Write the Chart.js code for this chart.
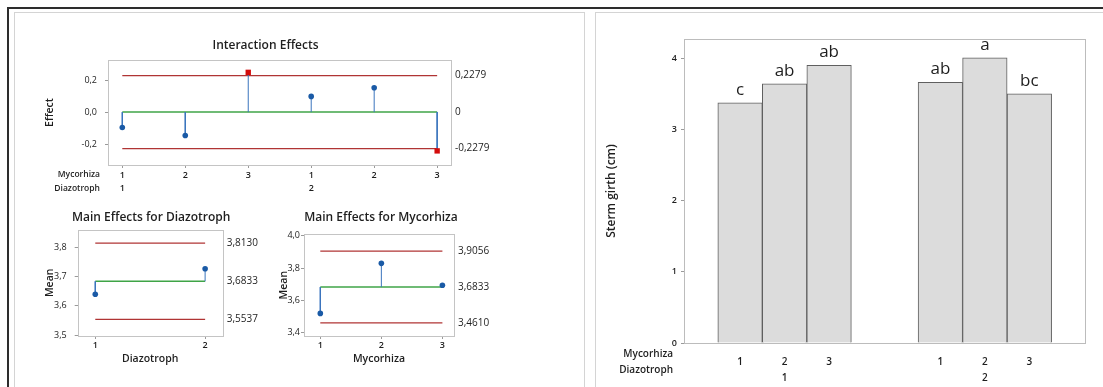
<!DOCTYPE html>
<html>
<head>
<meta charset="utf-8">
<script src="https://cdn.jsdelivr.net/npm/chart.js@4.4.1/dist/chart.umd.min.js"></script>
<style>
  body { margin: 0; background: #fff; width: 1103px; height: 387px; overflow: hidden; position: relative; }
  .rule { position: absolute; background: #2d2d2d; }
  .panel { position: absolute; border: 1px solid #d4d4d4; }
  canvas { position: absolute; }
</style>
</head>
<body>
<div class="rule" style="left:7px;top:7px;width:1096px;height:2px"></div>
<div class="rule" style="left:7px;top:7px;width:2px;height:380px"></div>
<div class="panel" style="left:14px;top:12px;width:569px;height:400px"></div>
<div class="panel" style="left:595px;top:12px;width:600px;height:400px"></div>

<canvas id="interaction" width="590" height="180" style="left:0;top:20px"></canvas>
<canvas id="mainDiaz" width="290" height="192" style="left:0;top:195px"></canvas>
<canvas id="mainMyc" width="340" height="192" style="left:250px;top:195px"></canvas>
<canvas id="girth" width="508" height="373" style="left:595px;top:14px"></canvas>

<script>
// levels of the two factors
const mycorhizaLevels = ['1', '2', '3'];
const diazotrophLevels = ['1', '2'];

// stem girth means (cm): Diazotroph 1 (Mycorhiza 1-3), then Diazotroph 2 (Mycorhiza 1-3)
const stemGirth = [3.375, 3.64, 3.90, 3.66, 4.005, 3.50];
const groupLetters = ['c', 'ab', 'ab', 'ab', 'a', 'bc'];
const girthTicks = [0, 1, 2, 3, 4];

// ANOM style effects
const interactionEffects = [-0.096, -0.146, 0.248, 0.098, 0.152, -0.242];
const interactionLimits = [-0.2279, 0.2279];
const interactionTicks = [-0.2, 0, 0.2];

const grandMean = 3.6833;
const diazotrophMeans = [3.639, 3.726];
const diazotrophLimits = [3.5537, 3.8130];
const diazotrophTicks = [3.5, 3.6, 3.7, 3.8];

const mycorhizaMeans = [3.52, 3.83, 3.694];
const mycorhizaLimits = [3.4610, 3.9056];
const mycorhizaTicks = [3.4, 3.6, 3.8, 4.0];

const FONT = "'Open Sans', sans-serif";
const TXT = '#1e1e1e';
const FRAME = '#c4c4c4';
const BLUE_PT = '#1a5aa6';
const RED_PT = '#d40b0b';
const STEM = '#3a74bd';
const GREEN = '#3fa447';
const LIMIT = '#b03434';

Chart.defaults.font.family = FONT;
Chart.defaults.color = TXT;
Chart.defaults.animation = false;
Chart.defaults.plugins.legend.display = false;
Chart.defaults.plugins.tooltip.enabled = false;

function comma(v, d) {
  return v.toFixed(d).replace('.', ',');
}

// frame round the plot area, the panel title and the row names under the x axis
const extras = {
  id: 'extras',
  beforeDatasetsDraw(chart, args, opts) {
    const { ctx, chartArea: a } = chart;
    ctx.save();
    ctx.strokeStyle = opts.frameColor || FRAME;
    ctx.lineWidth = 1;
    ctx.strokeRect(Math.round(a.left) + 0.5, Math.round(a.top) + 0.5,
      Math.round(a.right - a.left), Math.round(a.bottom - a.top));
    ctx.restore();
  },
  afterDraw(chart, args, opts) {
    const { ctx, chartArea: a } = chart;
    ctx.save();
    ctx.fillStyle = TXT;
    if (opts.title) {
      ctx.font = '600 12px ' + FONT;
      ctx.textAlign = 'center';
      ctx.textBaseline = 'middle';
      ctx.fillText(opts.title, (a.left + a.right) / 2 + (opts.titleShift || 0), a.top - opts.titleGap);
    }
    if (opts.rows) {
      ctx.font = '600 ' + opts.rowSize + 'px ' + FONT;
      ctx.textAlign = 'right';
      ctx.textBaseline = 'middle';
      opts.rows.forEach((name, i) => {
        ctx.fillText(name, a.left - opts.rowGap, a.bottom + opts.rowY[i]);
      });
    }
    if (opts.letters) {
      const meta = chart.getDatasetMeta(0);
      ctx.font = '17px ' + FONT;
      ctx.textAlign = 'center';
      ctx.textBaseline = 'alphabetic';
      meta.data.forEach((bar, i) => {
        ctx.fillText(opts.letters[i], bar.x, bar.y - 8);
      });
    }
    ctx.restore();
  }
};

function effectChart(id, o) {
  const canvas = document.getElementById(id);
  const W = canvas.width, H = canvas.height;
  const n = o.values.length;
  const xs = o.values.map((v, i) => i + 1);
  const outside = v => v < o.limits[0] || v > o.limits[1];

  const padL = o.yTitleX - o.titleSize * 0.6;
  let padB = 0, xAxisH = H - o.plot.b;
  if (o.xTitle) {
    padB = H - (o.xTitleY + o.titleSize * 0.6);
    xAxisH = (H - padB) - o.plot.b;
  }

  const datasets = [
    {
      data: o.values.map((v, i) => ({ x: xs[i], y: v })),
      showLine: false,
      pointStyle: o.values.map(v => outside(v) ? 'rect' : 'circle'),
      pointRadius: o.values.map(v => outside(v) ? 3.8 : 2.8),
      pointBackgroundColor: o.values.map(v => outside(v) ? RED_PT : BLUE_PT),
      pointBorderWidth: 0
    },
    {
      data: xs.flatMap((x, i) => [{ x: x, y: o.center }, { x: x, y: o.values[i] }, { x: x, y: null }]),
      borderColor: STEM,
      borderWidth: 1,
      pointRadius: 0,
      spanGaps: false
    },
    {
      data: [{ x: 1, y: o.center }, { x: n, y: o.center }],
      borderColor: GREEN,
      borderWidth: 1.5,
      pointRadius: 0
    }
  ].concat(o.limits.map(l => ({
    data: [{ x: 1, y: l }, { x: n, y: l }],
    borderColor: LIMIT,
    borderWidth: 1.2,
    pointRadius: 0
  })));

  const refTicks = [o.limits[0], o.center, o.limits[1]];

  return new Chart(canvas, {
    type: 'line',
    data: { datasets: datasets },
    plugins: [extras],
    options: {
      responsive: false,
      devicePixelRatio: 1,
      layout: { padding: { left: padL, top: o.plot.t, right: 0, bottom: padB } },
      plugins: {
        extras: {
          title: o.title,
          titleShift: o.titleShift || 0,
          titleGap: o.titleGap,
          rows: o.rows,
          rowSize: 8.5,
          rowGap: 8,
          rowY: o.rowY
        }
      },
      scales: {
        x: {
          type: 'linear',
          min: o.xMin,
          max: o.xMax,
          offset: false,
          afterBuildTicks: s => { s.ticks = xs.map(v => ({ value: v })); },
          afterFit: s => { s.height = xAxisH; },
          ticks: {
            autoSkip: false,
            maxRotation: 0,
            padding: o.xTickPad,
            color: TXT,
            font: { size: 9, weight: '600', lineHeight: o.xLineH || 1.2 },
            callback: (v, i) => o.xLabels[i]
          },
          grid: { drawOnChartArea: false, tickLength: 3, color: '#9a9a9a' },
          border: { display: false },
          title: {
            display: !!o.xTitle,
            text: o.xTitle || '',
            color: TXT,
            padding: 0,
            font: { size: o.titleSize, weight: '600', lineHeight: 1.2 }
          }
        },
        y: {
          min: o.yMin,
          max: o.yMax,
          afterBuildTicks: s => { s.ticks = o.yTicks.map(v => ({ value: v })); },
          afterFit: s => { s.width = o.plot.l - padL; },
          ticks: {
            padding: o.yTickPad,
            color: TXT,
            font: { size: 9 },
            callback: v => comma(v, 1)
          },
          grid: { drawOnChartArea: false, tickLength: 3, color: '#9a9a9a' },
          border: { display: false },
          title: {
            display: true,
            text: o.yTitle,
            color: TXT,
            padding: 0,
            font: { size: o.titleSize, weight: '600', lineHeight: 1.2 }
          }
        },
        y2: {
          position: 'right',
          min: o.yMin,
          max: o.yMax,
          afterBuildTicks: s => { s.ticks = refTicks.map(v => ({ value: v })); },
          afterFit: s => { s.width = W - o.plot.r; },
          ticks: {
            padding: 4,
            color: TXT,
            font: { size: 10 },
            callback: v => Math.abs(v) < 1e-9 ? '0' : comma(v, 4)
          },
          grid: { display: false, drawTicks: false, tickLength: 0 },
          border: { display: false }
        }
      }
    }
  });
}

// Interaction effects
effectChart('interaction', {
  values: interactionEffects,
  center: 0,
  limits: interactionLimits,
  yTicks: interactionTicks,
  yMin: -0.33, yMax: 0.325,
  xMin: 0.773, xMax: 6.22,
  xLabels: diazotrophLevels.flatMap(d => mycorhizaLevels.map((m, j) => [m, j === 0 ? d : ''])),
  xLineH: 1.45,
  xTickPad: 1,
  rows: ['Mycorhiza', 'Diazotroph'],
  rowY: [10, 23.5],
  yTitle: 'Effect',
  yTitleX: 50,
  titleSize: 10.5,
  yTickPad: 8,
  plot: { l: 108, r: 451, t: 40, b: 145 },
  title: 'Interaction Effects',
  titleShift: -14,
  titleGap: 14
});

// Main effects for Diazotroph
effectChart('mainDiaz', {
  values: diazotrophMeans,
  center: grandMean,
  limits: diazotrophLimits,
  yTicks: diazotrophTicks,
  yMin: 3.497, yMax: 3.859,
  xMin: 0.84, xMax: 2.16,
  xLabels: diazotrophLevels,
  xTickPad: 1,
  xTitle: 'Diazotroph',
  xTitleY: 164,
  yTitle: 'Mean',
  yTitleX: 50,
  titleSize: 10.5,
  yTickPad: 8,
  plot: { l: 77.7, r: 222.7, t: 34.7, b: 141 },
  title: 'Main Effects for Diazotroph',
  titleShift: 1,
  titleGap: 12
});

// Main effects for Mycorhiza
effectChart('mainMyc', {
  values: mycorhizaMeans,
  center: grandMean,
  limits: mycorhizaLimits,
  yTicks: mycorhizaTicks,
  yMin: 3.38, yMax: 4.01,
  xMin: 0.733, xMax: 3.19,
  xLabels: mycorhizaLevels,
  xTickPad: 1,
  xTitle: 'Mycorhiza',
  xTitleY: 164.3,
  yTitle: 'Mean',
  yTitleX: 34,
  titleSize: 10.5,
  yTickPad: 1,
  plot: { l: 54, r: 204, t: 39.3, b: 141 },
  title: 'Main Effects for Mycorhiza',
  titleShift: 2,
  titleGap: 16.6
});

// Stem girth bar chart, grouped by Diazotroph then Mycorhiza
(function() {
  const canvas = document.getElementById('girth');
  const groupSize = mycorhizaLevels.length;
  const groupStep = groupSize + 1.5;
  const positions = stemGirth.map((v, i) => Math.floor(i / groupSize) * groupStep + (i % groupSize) + 1);
  const xLabels = stemGirth.map((v, i) => [
    mycorhizaLevels[i % groupSize],
    i % groupSize === 1 ? diazotrophLevels[Math.floor(i / groupSize)] : ''
  ]);
  const plot = { l: 89, r: 490, t: 25, b: 329 };
  const padL = 17 - 12 * 0.6;

  new Chart(canvas, {
    type: 'bar',
    data: {
      datasets: [{
        data: stemGirth.map((v, i) => ({ x: positions[i], y: v })),
        backgroundColor: '#dcdcdc',
        borderColor: '#5f5f5f',
        borderWidth: 1,
        barPercentage: 1,
        categoryPercentage: 1
      }]
    },
    plugins: [extras],
    options: {
      responsive: false,
      devicePixelRatio: 1,
      layout: { padding: { left: padL, top: plot.t, right: canvas.width - plot.r, bottom: 0 } },
      plugins: {
        extras: {
          frameColor: '#bcbcbc',
          rows: ['Mycorhiza', 'Diazotroph'],
          rowSize: 10,
          rowGap: 11,
          rowY: [11, 27],
          letters: groupLetters
        }
      },
      scales: {
        x: {
          type: 'linear',
          min: -0.26,
          max: 8.75,
          offset: false,
          afterBuildTicks: s => { s.ticks = positions.map(v => ({ value: v })); },
          afterFit: s => { s.height = canvas.height - plot.b; },
          ticks: {
            autoSkip: false,
            maxRotation: 0,
            padding: 3,
            color: TXT,
            font: { size: 10, weight: '600', lineHeight: 1.6 },
            callback: (v, i) => xLabels[i]
          },
          grid: { display: false },
          border: { display: false }
        },
        y: {
          min: 0,
          max: 4.27,
          afterBuildTicks: s => { s.ticks = girthTicks.map(v => ({ value: v })); },
          afterFit: s => { s.width = plot.l - padL; },
          ticks: { padding: 4, color: TXT, font: { size: 9, weight: '600' } },
          grid: { drawOnChartArea: false, tickLength: 3, color: '#9a9a9a' },
          border: { display: false },
          title: {
            display: true,
            text: 'Sterm girth (cm)',
            color: TXT,
            padding: 0,
            font: { size: 12, weight: '600', lineHeight: 1.2 }
          }
        }
      }
    }
  });
})();
</script>
</body>
</html>
